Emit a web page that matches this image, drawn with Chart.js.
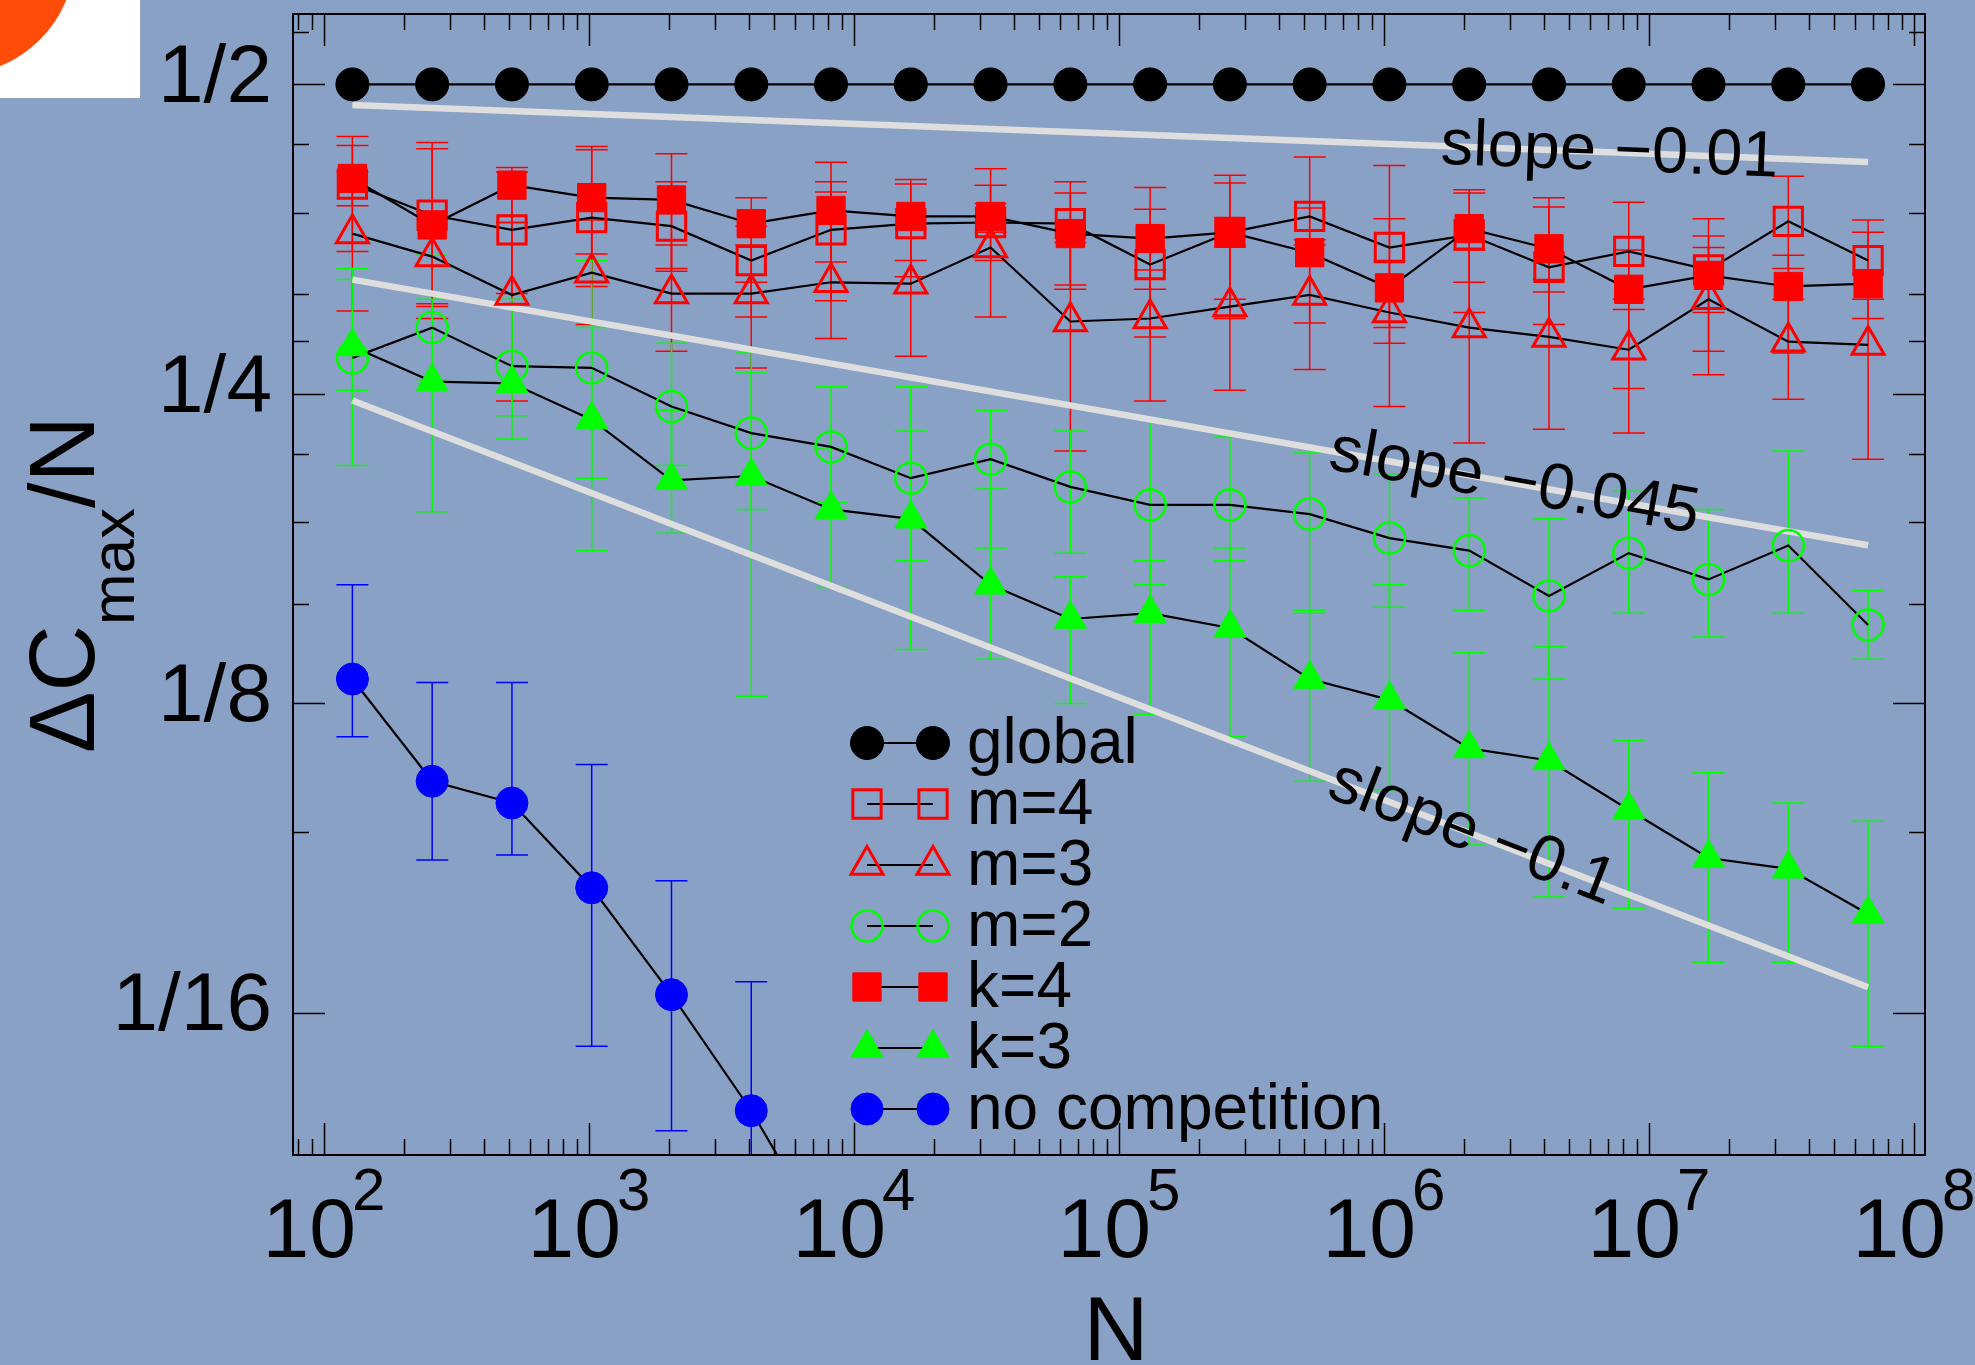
<!DOCTYPE html>
<html>
<head>
<meta charset="utf-8">
<title>Delta C max / N</title>
<script src="https://cdn.jsdelivr.net/npm/chart.js"></script>
<style>
  html, body { margin: 0; padding: 0; background: #8aa1c6; overflow: hidden; }
  #box { position: relative; width: 1975px; height: 1365px; }
</style>
</head>
<body>
<div id="box"><canvas id="delta-chart"></canvas></div>
<script>
//DATA

var sizes = [128, 256, 512, 1024, 2048, 4096, 8192, 16384, 32768, 65536, 131072, 262144,
  524288, 1048576, 2097152, 4194304, 8388608, 16777216, 33554432, 67108864];

var globalVals = [0.5, 0.5, 0.5, 0.5, 0.5, 0.5, 0.5, 0.5, 0.5, 0.5,
  0.5, 0.5, 0.5, 0.5, 0.5, 0.5, 0.5, 0.5, 0.5, 0.5];
var m4Vals = [0.400, 0.373, 0.361, 0.371, 0.364, 0.337, 0.361, 0.366, 0.367, 0.366,
  0.334, 0.359, 0.372, 0.347, 0.357, 0.332, 0.344, 0.330, 0.368, 0.337];
var m3Vals = [0.358, 0.340, 0.312, 0.328, 0.313, 0.313, 0.321, 0.320, 0.347, 0.294,
  0.296, 0.304, 0.312, 0.300, 0.290, 0.284, 0.276, 0.309, 0.281, 0.279];
var m2Vals = [0.271, 0.290, 0.266, 0.265, 0.243, 0.229, 0.222, 0.207, 0.216, 0.203,
  0.195, 0.195, 0.191, 0.181, 0.176, 0.159, 0.175, 0.165, 0.178, 0.149];
var k4Vals = [0.405, 0.365, 0.399, 0.388, 0.386, 0.366, 0.377, 0.372, 0.372, 0.358,
  0.354, 0.359, 0.343, 0.317, 0.362, 0.346, 0.316, 0.326, 0.318, 0.320];
var k3Vals = [0.278, 0.257, 0.256, 0.236, 0.206, 0.208, 0.193, 0.189, 0.163, 0.151,
  0.153, 0.148, 0.132, 0.126, 0.113, 0.110, 0.0985, 0.0884, 0.0863, 0.078];
var noCompVals = [0.132, 0.105, 0.100, 0.0827, 0.0651, 0.0502, 0.037];

// error bars as [low, high]
var m4Err = [[0.344, 0.445], [0.304, 0.439], [0.313, 0.411], [0.318, 0.432], [0.329, 0.402],
  [0.297, 0.364], [0.308, 0.420], [0.325, 0.404], [0.359, 0.414], [0.319, 0.402],
  [0.284, 0.378], [0.296, 0.408], [0.353, 0.425], [0.290, 0.417], [0.300, 0.395],
  [0.292, 0.388], [0.253, 0.384], [0.275, 0.370], [0.331, 0.407], [0.327, 0.369]];
var m3Err = [[0.301, 0.411], [0.296, 0.376], [0.246, 0.367], [0.292, 0.369], [0.275, 0.349],
  [0.265, 0.349], [0.283, 0.402], [0.272, 0.362], [0.297, 0.383], [0.220, 0.351],
  [0.246, 0.330], [0.252, 0.348], [0.264, 0.349], [0.243, 0.337], [0.224, 0.345],
  [0.231, 0.323], [0.229, 0.309], [0.261, 0.347], [0.247, 0.309], [0.216, 0.309]];
var m2Err = [[0.213, 0.331], [0.258, 0.341], [0.226, 0.309], [0.207, 0.337], [0.213, 0.280],
  [0.193, 0.274], [0.196, 0.254], [0.172, 0.230], [0.177, 0.241], [0.175, 0.230],
  [0.163, 0.237], [0.172, 0.227], [0.154, 0.219], [0.155, 0.209], [0.154, 0.198],
  [0.132, 0.189], [0.153, 0.201], [0.145, 0.193], [0.153, 0.220], [0.138, 0.161]];
var k4Err = [[0.381, 0.436], [0.306, 0.433], [0.367, 0.415], [0.342, 0.435], [0.331, 0.428],
  [0.321, 0.388], [0.336, 0.393], [0.337, 0.400], [0.337, 0.399], [0.316, 0.392],
  [0.316, 0.397], [0.309, 0.401], [0.293, 0.379], [0.280, 0.370], [0.321, 0.392],
  [0.314, 0.380], [0.302, 0.345], [0.300, 0.356], [0.274, 0.341], [0.296, 0.359]];
var k3Err = [[0.252, 0.323], [0.192, 0.309], [0.238, 0.306], [0.176, 0.290], [0.183, 0.241],
  [0.127, 0.262], [0.162, 0.221], [0.141, 0.254], [0.138, 0.202], [0.125, 0.166],
  [0.122, 0.172], [0.116, 0.177], [0.105, 0.153], [0.103, 0.163], [0.091, 0.140],
  [0.081, 0.142], [0.079, 0.115], [0.070, 0.107], [0.070, 0.100], [0.058, 0.096]];
var noCompErr = [[0.116, 0.163], [0.088, 0.131], [0.089, 0.131], [0.058, 0.109],
  [0.048, 0.084], [0.035, 0.067], null];

// guide lines (end points)
var fitN = [128, 67108864];
var slope001 = [0.4775, 0.4202];
var slope0045 = [0.3229, 0.1781];
var slope01 = [0.2463, 0.0662];
var slopeLabels = ["slope \u22120.01", "slope \u22120.045", "slope \u22120.1"];

// axes
var xTickValues = [1e2, 1e3, 1e4, 1e5, 1e6, 1e7, 1e8];
var xTickExps = ["2", "3", "4", "5", "6", "7", "8"];
var yTickValues = [0.5, 0.25, 0.125, 0.0625];
var yTickLabels = ["1/2", "1/4", "1/8", "1/16"];
var yMinorTicks = [0.5625, 0.4375, 0.375, 0.3125, 0.28125, 0.21875, 0.1875, 0.15625, 0.09375];

var FONT = '"Liberation Sans", Arial, Helvetica, sans-serif';
var RED = "#ff0000", GREEN = "#00ff00", BLUE = "#0000ff", NONE = "rgba(0,0,0,0)";

function pts(xs, ys) {
  return ys.map(function (y, i) { return { x: xs[i], y: y }; });
}

var series = [
  { label: "global", data: pts(sizes, globalVals), pointStyle: "circle", pointRadius: 16.5,
    pointBackgroundColor: "#000", pointBorderColor: "#000", pointBorderWidth: 1, order: 7 },
  { label: "m=4", data: pts(sizes, m4Vals), pointStyle: "rect", pointRadius: 20,
    pointBackgroundColor: NONE, pointBorderColor: RED, pointBorderWidth: 3, order: 6 },
  { label: "m=3", data: pts(sizes, m3Vals), pointStyle: "triangle", pointRadius: 18.5,
    pointBackgroundColor: NONE, pointBorderColor: RED, pointBorderWidth: 3, order: 5 },
  { label: "m=2", data: pts(sizes, m2Vals), pointStyle: "circle", pointRadius: 15.5,
    pointBackgroundColor: NONE, pointBorderColor: GREEN, pointBorderWidth: 2.5, order: 4 },
  { label: "k=4", data: pts(sizes, k4Vals), pointStyle: "rect", pointRadius: 20,
    pointBackgroundColor: RED, pointBorderColor: RED, pointBorderWidth: 1, order: 3 },
  { label: "k=3", data: pts(sizes, k3Vals), pointStyle: "triangle", pointRadius: 18.5,
    pointBackgroundColor: GREEN, pointBorderColor: GREEN, pointBorderWidth: 1, order: 2 },
  { label: "no competition", data: pts(sizes, noCompVals), pointStyle: "circle", pointRadius: 16,
    pointBackgroundColor: BLUE, pointBorderColor: BLUE, pointBorderWidth: 1, order: 1 }
];
series.forEach(function (s) {
  s.borderColor = "#000";
  s.borderWidth = 2.2;
  s.fill = false;
});

var fits = [slope001, slope0045, slope01].map(function (v) {
  return { label: "", data: pts(fitN, v), borderColor: "#dedede", borderWidth: 6.5,
    pointRadius: 0, fill: false, order: 10 };
});

var errorSets = [
  { err: m4Err, color: RED }, { err: m3Err, color: RED }, { err: m2Err, color: GREEN },
  { err: k4Err, color: RED }, { err: k3Err, color: GREEN }, { err: noCompErr, color: BLUE }
];

function drawMarker(ctx, s, x, y) {
  var r = s.pointRadius;
  ctx.beginPath();
  if (s.pointStyle === "circle") {
    ctx.arc(x, y, r, 0, Math.PI * 2);
  } else if (s.pointStyle === "rect") {
    var h = r * Math.SQRT1_2;
    ctx.rect(x - h, y - h, 2 * h, 2 * h);
  } else {
    for (var k = 0; k < 3; k++) {
      var t = k * 2 * Math.PI / 3;
      if (k === 0) ctx.moveTo(x + Math.sin(t) * r, y - Math.cos(t) * r);
      else ctx.lineTo(x + Math.sin(t) * r, y - Math.cos(t) * r);
    }
    ctx.closePath();
  }
  if (s.pointBackgroundColor !== NONE) {
    ctx.fillStyle = s.pointBackgroundColor;
    ctx.fill();
  }
  ctx.lineWidth = s.pointBorderWidth;
  ctx.strokeStyle = s.pointBorderColor;
  ctx.stroke();
}

//PLUGINS

var backdrop = {
  id: "backdrop",
  beforeDraw: function (chart) {
    var ctx = chart.ctx;
    ctx.save();
    ctx.fillStyle = "#8aa1c6";
    ctx.fillRect(0, 0, chart.width, chart.height);
    // corner of the slide logo
    ctx.fillStyle = "#ffffff";
    ctx.fillRect(0, 0, 140, 98);
    ctx.beginPath();
    ctx.rect(0, 0, 140, 98);
    ctx.clip();
    ctx.fillStyle = "#ff4c08";
    ctx.beginPath();
    ctx.arc(-45, -45, 120, 0, Math.PI * 2);
    ctx.fill();
    ctx.restore();
  }
};

var errorBars = {
  id: "errorBars",
  beforeDatasetsDraw: function (chart) {
    var ctx = chart.ctx, xs = chart.scales.x, ys = chart.scales.y, a = chart.chartArea;
    ctx.save();
    ctx.beginPath();
    ctx.rect(a.left, a.top, a.right - a.left, a.bottom - a.top);
    ctx.clip();
    ctx.lineWidth = 1.5;
    errorSets.forEach(function (set) {
      ctx.strokeStyle = set.color;
      set.err.forEach(function (e, i) {
        if (!e) return;
        var x = xs.getPixelForValue(sizes[i]);
        var y0 = ys.getPixelForValue(e[0]), y1 = ys.getPixelForValue(e[1]);
        ctx.beginPath();
        ctx.moveTo(x, y0); ctx.lineTo(x, y1);
        ctx.moveTo(x - 16, y0); ctx.lineTo(x + 16, y0);
        ctx.moveTo(x - 16, y1); ctx.lineTo(x + 16, y1);
        ctx.stroke();
      });
    });
    ctx.restore();
  }
};

var frame = {
  id: "frame",
  afterDraw: function (chart) {
    var ctx = chart.ctx, xs = chart.scales.x, ys = chart.scales.y, a = chart.chartArea;
    ctx.save();

    // inward ticks on all four sides
    ctx.strokeStyle = "#000";
    ctx.lineWidth = 1.5;
    ctx.beginPath();
    for (var d = 1; d <= 8; d++) {
      for (var m = 1; m <= 9; m++) {
        var v = m * Math.pow(10, d);
        if (v < xs.min || v > xs.max) continue;
        var x = Math.round(xs.getPixelForValue(v)) + 0.5;
        var len = m === 1 ? 32 : 16;
        ctx.moveTo(x, a.bottom); ctx.lineTo(x, a.bottom - len);
        ctx.moveTo(x, a.top); ctx.lineTo(x, a.top + len);
      }
    }
    yTickValues.concat(yMinorTicks).forEach(function (v) {
      var y = Math.round(ys.getPixelForValue(v)) + 0.5;
      var len = yTickValues.indexOf(v) >= 0 ? 32 : 16;
      ctx.moveTo(a.left, y); ctx.lineTo(a.left + len, y);
      ctx.moveTo(a.right, y); ctx.lineTo(a.right - len, y);
    });
    ctx.stroke();
    ctx.lineWidth = 2;
    ctx.strokeRect(a.left, a.top, a.right - a.left, a.bottom - a.top);

    // x tick labels 10^k
    ctx.fillStyle = "#000";
    ctx.textAlign = "left";
    ctx.textBaseline = "alphabetic";
    xTickValues.forEach(function (v, i) {
      var x = xs.getPixelForValue(v);
      ctx.font = "84px " + FONT;
      var wb = ctx.measureText("10").width;
      ctx.font = "60px " + FONT;
      var we = ctx.measureText(xTickExps[i]).width;
      var x0 = x - (wb + we - 4) / 2;
      ctx.font = "84px " + FONT;
      ctx.fillText("10", x0, a.bottom + 102);
      ctx.font = "60px " + FONT;
      ctx.fillText(xTickExps[i], x0 + wb - 4, a.bottom + 55);
    });

    // axis titles
    ctx.font = "90px " + FONT;
    ctx.textAlign = "center";
    ctx.fillText("N", (a.left + a.right) / 2 + 7, 1360);

    ctx.save();
    ctx.translate(94, 753);
    ctx.rotate(-Math.PI / 2);
    ctx.textAlign = "left";
    ctx.font = "92px " + FONT;
    ctx.fillText("\u0394C", 0, 0);
    var w = ctx.measureText("\u0394C").width;
    ctx.font = "62px " + FONT;
    ctx.fillText("max", w, 40);
    w += ctx.measureText("max").width;
    ctx.font = "92px " + FONT;
    ctx.fillText("/N", w, 0);
    ctx.restore();

    // slope labels, centred on their guide lines
    var labelAt = [7.1e6, 3.1e6, 2.15e6];
    [slope001, slope0045, slope01].forEach(function (f, i) {
      var x1 = xs.getPixelForValue(fitN[0]), y1 = ys.getPixelForValue(f[0]);
      var x2 = xs.getPixelForValue(fitN[1]), y2 = ys.getPixelForValue(f[1]);
      var cx = xs.getPixelForValue(labelAt[i]);
      var cy = y1 + (cx - x1) / (x2 - x1) * (y2 - y1);
      ctx.save();
      ctx.translate(cx, cy);
      ctx.rotate(Math.atan2(y2 - y1, x2 - x1));
      ctx.font = "65px " + FONT;
      ctx.textAlign = "center";
      ctx.textBaseline = "middle";
      ctx.fillStyle = "#000";
      ctx.fillText(slopeLabels[i], 0, 0);
      ctx.restore();
    });

    // legend
    series.forEach(function (s, i) {
      var y = 743 + i * 61;
      ctx.strokeStyle = "#000";
      ctx.lineWidth = 2.2;
      ctx.beginPath();
      ctx.moveTo(867, y); ctx.lineTo(933, y);
      ctx.stroke();
      drawMarker(ctx, s, 867, y);
      drawMarker(ctx, s, 933, y);
      ctx.fillStyle = "#000";
      ctx.font = "64px " + FONT;
      ctx.textAlign = "left";
      ctx.textBaseline = "middle";
      ctx.fillText(s.label, 967, y + 2);
    });

    ctx.restore();
  }
};

//CHART

Chart.defaults.font.family = FONT;

function noPadding(scale) {
  scale.paddingTop = 0;
  scale.paddingBottom = 0;
  scale.paddingLeft = 0;
  scale.paddingRight = 0;
}

var ctx = document.getElementById("delta-chart").getContext("2d");
var chart = new Chart(ctx, {
  type: "line",
  data: {
    datasets: series.concat(fits)
  },
  plugins: [backdrop, errorBars, frame],
  options: {
    responsive: true,
    maintainAspectRatio: false,
    animation: false,
    events: [],
    layout: {
      autoPadding: false,
      padding: { top: 14, right: 50, left: 0, bottom: 0 }
    },
    plugins: {
      legend: { display: false },
      tooltip: { enabled: false }
    },
    scales: {
      x: {
        type: "logarithmic",
        min: 76.4,
        max: 1.1004e8,
        grid: { display: false, drawTicks: false },
        border: { display: false },
        ticks: { display: false },
        afterFit: function (scale) {
          scale.height = 210;
          noPadding(scale);
        }
      },
      y: {
        type: "logarithmic",
        min: 0.04546,
        max: 0.5854,
        grid: { display: false, drawTicks: false },
        border: { display: false },
        afterBuildTicks: function (scale) {
          scale.ticks = yTickValues.map(function (v) { return { value: v }; });
        },
        ticks: {
          autoSkip: false,
          color: "#000",
          padding: 21,
          labelOffset: -5,
          font: { size: 82 },
          callback: function (value) {
            var i = yTickValues.indexOf(value);
            return i >= 0 ? yTickLabels[i] : "";
          }
        },
        afterFit: function (scale) {
          scale.width = 293;
          noPadding(scale);
        }
      }
    }
  }
});
</script>
</body>
</html>
